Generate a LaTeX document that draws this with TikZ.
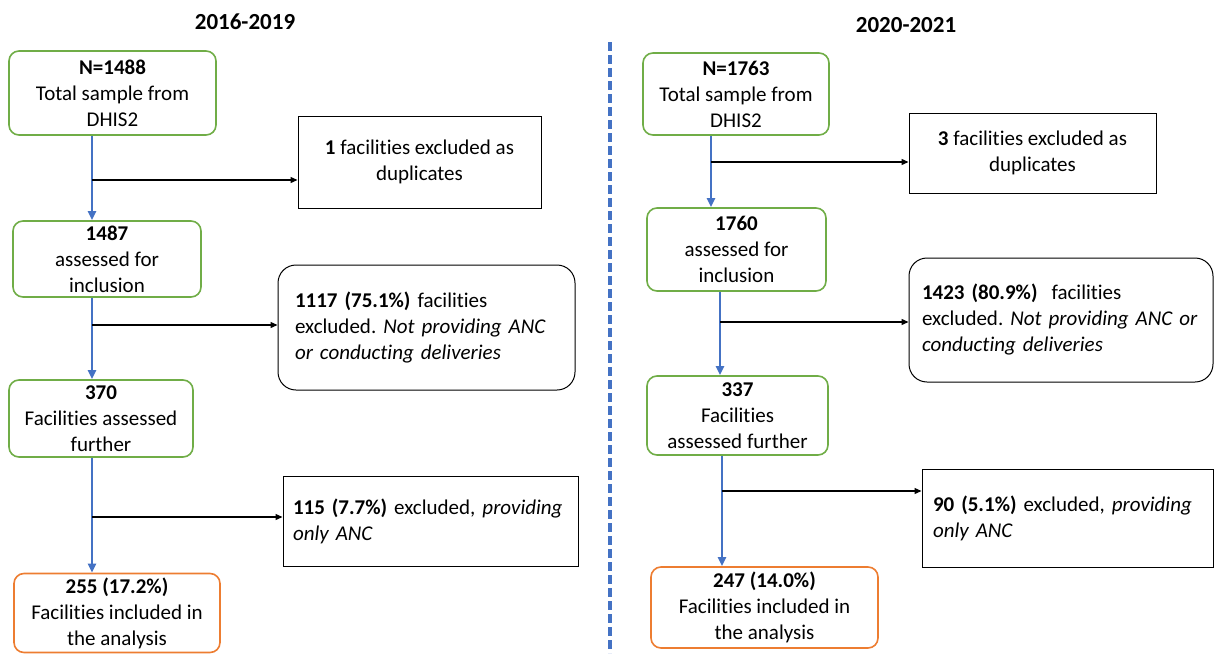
\documentclass[tikz,border=0pt]{standalone}
\usepackage{fontspec}
\setmainfont{Carlito}[Ligatures=NoCommon]
\usetikzlibrary{positioning,calc,arrows.meta}
\definecolor{flowblue}{RGB}{68,114,196}
\definecolor{flowgreen}{RGB}{112,173,71}
\definecolor{floworange}{RGB}{237,125,49}
\tikzset{
  stagebox/.style={draw=flowgreen, line width=1.6pt, rounded corners=10pt, align=center, inner sep=0pt},
  finalbox/.style={stagebox, draw=floworange},
  exclbox/.style={draw, line width=1pt, align=center, inner sep=0pt},
  exclround/.style={exclbox, rounded corners=18pt},
  flow/.style={flowblue, line width=2.8pt, -{Triangle[length=9pt,width=8pt]}},
  branch/.style={black, line width=1.3pt, -{Triangle[length=7pt,width=6pt]}},
}

\begin{document}
\frenchspacing
\begin{tikzpicture}[x=1pt, y=-1pt, font=\fontsize{21}{26}\selectfont]
    \useasboundingbox (0,0) rectangle (1215,653);
    % 2016-2019
    \node[font=\fontsize{23}{26}\selectfont\bfseries] (t1) at (245,22) {2016-2019};
    \node[stagebox, minimum width=207pt, minimum height=84pt] (a1) at (112.5,93) {\textbf{N=1488}\\Total sample from\\DHIS2};
    \node[exclbox, minimum width=243pt, minimum height=92pt] (e1) at (419.5,162) {\textbf{1} facilities excluded as\\duplicates};
    \node[stagebox, minimum width=188pt, minimum height=76pt] (b1) at (107,259) {\textbf{1487}\\assessed for\\inclusion};
    \node[exclround, minimum width=297pt, minimum height=125pt, text width=263pt, align=left] (e2) at (426.5,327.5) {\textbf{1117 (75.1\%)} facilities\\excluded. \textit{Not providing ANC}\\\textit{or conducting deliveries}};
    \node[stagebox, minimum width=184pt, minimum height=77pt] (c1) at (101,418.5) {\textbf{370}\\Facilities assessed\\further};
    \node[exclbox, minimum width=295pt, minimum height=90pt, text width=275pt, align=left] (e3) at (430.5,521) {\textbf{115 (7.7\%)} excluded, \textit{providing}\\\textit{only ANC}};
    \node[finalbox, minimum width=206pt, minimum height=79pt] (d1) at (117,613) {\textbf{255 (17.2\%)}\\Facilities included in\\the analysis};

    \coordinate (j1) at (92,180);
    \coordinate (j2) at (92,325);
    \coordinate (j3) at (92,517);
    \draw[flow] (a1.south -| j1) -- (b1.north -| j1);
    \draw[flow] (b1.south -| j2) -- (c1.north -| j2);
    \draw[flow] (c1.south -| j3) -- (d1.north -| j3);
    \draw[branch] (j1) -- (j1 -| e1.west);
    \draw[branch] (j2) -- (j2 -| e2.west);
    \draw[branch] (j3) -- (j3 -| e3.west);

    % divider
    \coordinate (divtop) at (610,42);
    \coordinate (divbot) at (610,653);
    \draw[flowblue, line width=3.5pt, dash pattern=on 9pt off 4pt] (divtop) -- (divbot);

    % 2020-2021
    \node[font=\fontsize{23}{26}\selectfont\bfseries] (t2) at (906,25) {2020-2021};
    \node[stagebox, minimum width=186pt, minimum height=82pt] (a2) at (736,94) {\textbf{N=1763}\\Total sample from\\DHIS2};
    \node[exclbox, minimum width=247pt, minimum height=80pt] (e4) at (1032.5,153) {\textbf{3} facilities excluded as\\duplicates};
    \node[stagebox, minimum width=179pt, minimum height=83pt] (b2) at (736.5,249.5) {\textbf{1760}\\assessed for\\inclusion};
    \node[exclround, minimum width=304pt, minimum height=124pt, text width=278pt, align=left] (e5) at (1061,320) {\textbf{1423 (80.9\%)}\ \ facilities\\excluded. \textit{Not providing ANC or}\\\textit{conducting deliveries}};
    \node[stagebox, minimum width=181pt, minimum height=79pt] (c2) at (737.5,415.5) {\textbf{337}\\Facilities\\assessed further};
    \node[exclbox, minimum width=291pt, minimum height=98pt, text width=269pt, align=left] (e6) at (1067.5,518) {\textbf{90 (5.1\%)} excluded, \textit{providing}\\\textit{only ANC}};
    \node[finalbox, minimum width=227pt, minimum height=81pt] (d2) at (764.5,607.5) {\textbf{247 (14.0\%)}\\Facilities included in\\the analysis};

    \coordinate (k1) at (711,162);
    \coordinate (k2) at (720,322);
    \coordinate (k3) at (722,491);
    \draw[flow] (a2.south -| k1) -- (b2.north -| k1);
    \draw[flow] (b2.south -| k2) -- (c2.north -| k2);
    \draw[flow] (c2.south -| k3) -- (d2.north -| k3);
    \draw[branch] (k1) -- (k1 -| e4.west);
    \draw[branch] (k2) -- (k2 -| e5.west);
    \draw[branch] (k3) -- (k3 -| e6.west);
\end{tikzpicture}
\end{document}
